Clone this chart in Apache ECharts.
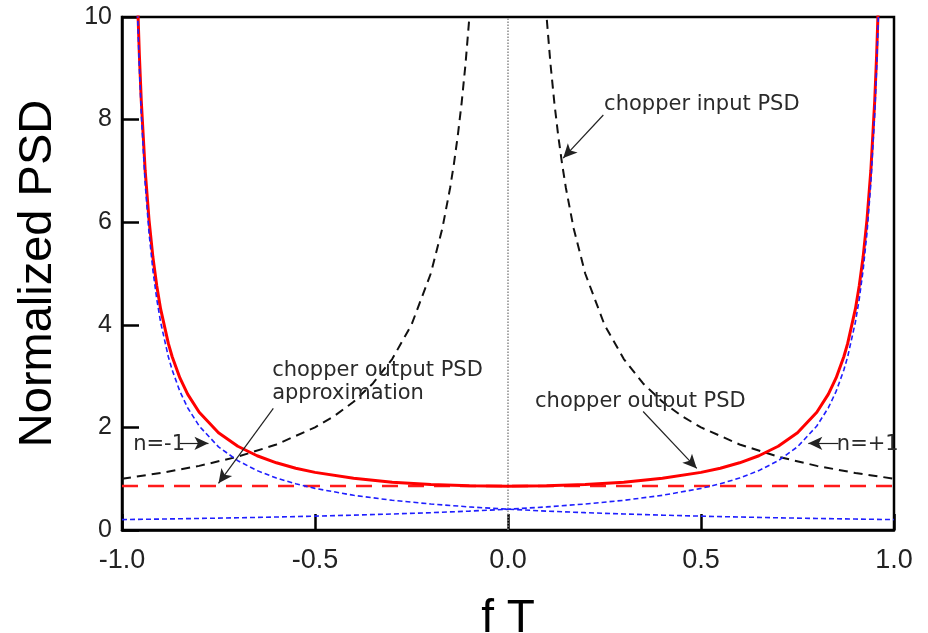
<!DOCTYPE html>
<html><head><meta charset="utf-8">
<script src="https://cdn.jsdelivr.net/npm/echarts@6/dist/echarts.min.js"></script>
<style>html,body{margin:0;padding:0;background:#fff}#c{width:928px;height:633px}</style>
</head><body><div id="c"></div>
<script>
// ---- data ----
const xTicks = [-1.0, -0.5, 0.0, 0.5, 1.0];
const yTicks = [0, 2, 4, 6, 8, 10];

// chopper output PSD (solid red)
const redX = [-0.97,-0.96,-0.955,-0.95,-0.94,-0.93,-0.92,-0.91,-0.9,-0.88,-0.87,-0.85,-0.83,-0.8,-0.75,-0.7,-0.65,-0.6,-0.55,-0.5,-0.4,-0.3,-0.2,-0.1,0,0.1,0.2,0.3,0.4,0.5,0.55,0.6,0.65,0.7,0.75,0.8,0.83,0.85,0.87,0.88,0.9,0.91,0.92,0.93,0.94,0.95,0.955,0.96,0.97];
const redY = [13.76,10.38,9.258,8.358,7.008,6.044,5.321,4.760,4.310,3.637,3.378,2.965,2.649,2.295,1.896,1.633,1.447,1.310,1.205,1.123,1.007,0.933,0.887,0.861,0.853,0.861,0.887,0.933,1.007,1.123,1.205,1.310,1.447,1.633,1.896,2.295,2.649,2.965,3.378,3.637,4.310,4.760,5.321,6.044,7.008,8.358,9.258,10.38,13.76];

// chopper output PSD approximation (dashed red)
const approxX = [-1, 1];
const approxY = [0.86, 0.86];

// n = +1 component (blue dashed)
const bluePosX = [-1,-0.9,-0.8,-0.7,-0.6,-0.5,-0.4,-0.3,-0.2,-0.1,0,0.1,0.2,0.3,0.4,0.5,0.55,0.6,0.65,0.7,0.75,0.8,0.83,0.85,0.87,0.88,0.9,0.91,0.92,0.93,0.94,0.95,0.955,0.96,0.97];
const bluePosY = [0.203,0.213,0.225,0.238,0.253,0.270,0.290,0.312,0.338,0.368,0.405,0.450,0.507,0.579,0.676,0.811,0.901,1.013,1.158,1.351,1.621,2.027,2.384,2.702,3.118,3.378,4.053,4.503,5.066,5.790,6.755,8.106,9.007,10.13,13.51];

// n = -1 component (blue dashed)
const blueNegX = [-0.97,-0.96,-0.955,-0.95,-0.94,-0.93,-0.92,-0.91,-0.9,-0.88,-0.87,-0.85,-0.83,-0.8,-0.75,-0.7,-0.65,-0.6,-0.55,-0.5,-0.4,-0.3,-0.2,-0.1,0,0.1,0.2,0.3,0.4,0.5,0.6,0.7,0.8,0.9,1];
const blueNegY = [13.51,10.13,9.007,8.106,6.755,5.790,5.066,4.503,4.053,3.378,3.118,2.702,2.384,2.027,1.621,1.351,1.158,1.013,0.901,0.811,0.676,0.579,0.507,0.450,0.405,0.368,0.338,0.312,0.290,0.270,0.253,0.238,0.225,0.213,0.203];

// chopper input PSD (black dashed), two branches
const inputRightX = [0.09,0.1,0.11,0.12,0.13,0.14,0.15,0.17,0.2,0.25,0.3,0.35,0.4,0.45,0.5,0.6,0.7,0.8,0.9,1.0];
const inputRightY = [11.11,10,9.091,8.333,7.692,7.143,6.667,5.882,5,4,3.333,2.857,2.5,2.222,2,1.667,1.429,1.25,1.111,1];
const inputLeftX = [-1.0,-0.9,-0.8,-0.7,-0.6,-0.5,-0.45,-0.4,-0.35,-0.3,-0.25,-0.2,-0.17,-0.15,-0.14,-0.13,-0.12,-0.11,-0.1,-0.09];
const inputLeftY = [1,1.111,1.25,1.429,1.667,2,2.222,2.5,2.857,3.333,4,5,5.882,6.667,7.143,7.692,8.333,9.091,10,11.11];

// centre line f = 0
const centreX = [0, 0];
const centreY = [0, 10];

// annotations: text, anchor (left, middle) in data coords
const notes = [
  {text: 'chopper input PSD', x: 0.249, y: 8.30},
  {text: 'chopper output PSD', x: 0.070, y: 2.51},
  {text: 'n=+1', x: 0.852, y: 1.66},
  {text: 'n=-1', x: -0.971, y: 1.66},
  {text: 'chopper output PSD', x: -0.611, y: 3.10},
  {text: 'approximation', x: -0.611, y: 2.66}
];
// arrows: [from, to] in data coords
const arrows = [
  [[0.247, 8.09], [0.143, 7.25]],
  [[0.350, 2.31], [0.489, 1.20]],
  [[0.856, 1.69], [0.778, 1.69]],
  [[-0.850, 1.69], [-0.776, 1.69]],
  [[-0.608, 2.37], [-0.750, 0.91]]
];

const zip = (xs, ys) => xs.map((x, i) => [x, ys[i]]);
const FONT = 'Liberation Sans, Arial, sans-serif';

const chart = echarts.init(document.getElementById('c'), null, {renderer: 'canvas'});
const option = {
  animation: false,
  backgroundColor: '#fff',
  grid: {left: 122, right: 34, top: 17, bottom: 103, containLabel: false, outerBoundsMode: 'none',
         show: true, borderColor: '#000', borderWidth: 2.5, backgroundColor: 'transparent'},
  xAxis: {
    type: 'value', min: xTicks[0], max: xTicks[xTicks.length - 1], interval: 0.5,
    name: 'f T', nameLocation: 'middle', nameGap: 66,
    nameTextStyle: {fontFamily: FONT, fontSize: 46, color: '#000'},
    axisLine: {show: true, onZero: false, lineStyle: {color: '#000', width: 2.5}},
    axisTick: {show: true, inside: true, length: 16, lineStyle: {color: '#000', width: 2.5}},
    axisLabel: {fontFamily: FONT, fontSize: 27, color: '#222', margin: 17, formatter: v => v.toFixed(1)},
    splitLine: {show: false}
  },
  yAxis: {
    type: 'value', min: yTicks[0], max: yTicks[yTicks.length - 1], interval: 2,
    name: 'Normalized PSD', nameLocation: 'middle', nameGap: 60,
    nameTextStyle: {fontFamily: FONT, fontSize: 47, color: '#000'},
    axisLine: {show: true, onZero: false, lineStyle: {color: '#000', width: 2.5}},
    axisTick: {show: true, inside: true, length: 17, lineStyle: {color: '#000', width: 2.5}},
    axisLabel: {fontFamily: FONT, fontSize: 25, color: '#222', margin: 10},
    splitLine: {show: false}
  },
  series: [
    {type: 'line', name: 'centre', data: zip(centreX, centreY), symbol: 'none', silent: true,
     lineStyle: {color: '#888', width: 1.5, type: [1.5, 1.5]}, z: 1,
     markLine: {silent: true, symbol: ['none', 'arrow'], symbolSize: [10, 14], label: {show: false},
       lineStyle: {color: '#222', width: 1.2, type: 'solid'},
       data: arrows.map(a => [{coord: a[0]}, {coord: a[1]}])}},
    {type: 'line', name: 'input', data: zip(inputLeftX, inputLeftY), symbol: 'none',
     lineStyle: {color: '#111', width: 2, type: [9, 6]}, z: 2},
    {type: 'line', name: 'input', data: zip(inputRightX, inputRightY), symbol: 'none',
     lineStyle: {color: '#111', width: 2, type: [9, 6]}, z: 2},
    {type: 'line', name: 'n=-1', data: zip(blueNegX, blueNegY), symbol: 'none',
     lineStyle: {color: '#1f1fff', width: 1.6, type: [5, 3]}, z: 4},
    {type: 'line', name: 'n=+1', data: zip(bluePosX, bluePosY), symbol: 'none',
     lineStyle: {color: '#1f1fff', width: 1.6, type: [5, 3]}, z: 4},
    {type: 'line', name: 'approx', data: zip(approxX, approxY), symbol: 'none',
     lineStyle: {color: '#ff1a1a', width: 2.5, type: [16, 10]}, z: 3},
    {type: 'line', name: 'output', data: zip(redX, redY), symbol: 'none',
     lineStyle: {color: '#ff0000', width: 3, join: 'round'}, z: 3}
  ]
};
chart.setOption(option);

const graphics = notes.map(n => {
  const p = chart.convertToPixel({gridIndex: 0}, [n.x, n.y]);
  return {type: 'text', x: p[0], y: p[1], z: 10,
    style: {text: n.text, fontFamily: 'DejaVu Sans, sans-serif', fontSize: 21, fill: '#2a2a2a', textAlign: 'left', textVerticalAlign: 'middle'}};
});
chart.setOption({graphic: graphics});
</script></body></html>
